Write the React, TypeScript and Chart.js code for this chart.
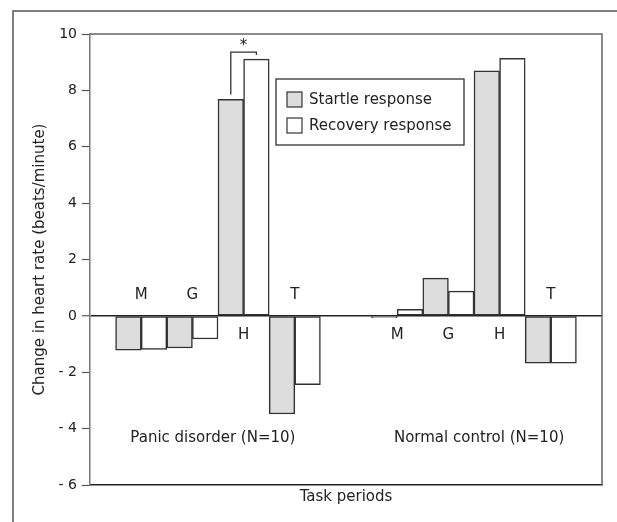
import React, { useEffect, useRef } from 'react';
import { Chart, registerables } from 'chart.js';
Chart.register(...registerables);

const categories = ['', 'M', 'G', 'H', 'T', '', 'M', 'G', 'H', 'T', ''];
const startle = [null, -1.22, -1.14, 7.68, -3.48, null, -0.06, 1.34, 8.69, -1.68, null];
const recovery = [null, -1.19, -0.82, 9.11, -2.44, null, 0.23, 0.88, 9.14, -1.68, null];
const seriesNames = ['Startle response', 'Recovery response'];
const seriesFills = ['#dddddd', '#ffffff'];
const groupNames = ['Panic disorder (N=10)', 'Normal control (N=10)'];
const groupPositions = [2.4, 7.6];
const groupLabelValue = -4.35;
const yTicks = [-6, -4, -2, 0, 2, 4, 6, 8, 10];
const significanceIndex = 3;
const significanceMark = '*';

const FONT = '"DejaVu Sans", sans-serif';
const TEXT = '#222';

const decor = {
  id: 'decor',
  afterDraw(chart: any) {
    const { ctx, chartArea: ca, scales } = chart;
    const x = scales.x;
    const y = scales.y;
    ctx.save();
    // outer frame
    ctx.strokeStyle = '#555';
    ctx.lineWidth = 1.5;
    ctx.beginPath();
    ctx.moveTo(13, chart.height);
    ctx.lineTo(13, 11);
    ctx.lineTo(chart.width, 11);
    ctx.stroke();
    // top & right plot border
    ctx.strokeStyle = '#666';
    ctx.beginPath();
    ctx.moveTo(ca.left, ca.top);
    ctx.lineTo(ca.right, ca.top);
    ctx.lineTo(ca.right, ca.bottom);
    ctx.stroke();

    // category letters
    ctx.font = `15px ${FONT}`;
    ctx.fillStyle = TEXT;
    ctx.textAlign = 'center';
    ctx.textBaseline = 'alphabetic';
    const zero = y.getPixelForValue(0);
    categories.forEach((c, i) => {
      if (!c) return;
      const px = x.getPixelForValue(i);
      const hi = Math.max(startle[i] ?? 0, recovery[i] ?? 0);
      if (hi < 0) ctx.fillText(c, px, zero - 16.5);
      else ctx.fillText(c, px, zero + 23.5);
    });

    // group labels
    ctx.textBaseline = 'middle';
    groupNames.forEach((g, k) => {
      ctx.fillText(g, x.getPixelForValue(groupPositions[k]), y.getPixelForValue(groupLabelValue));
    });

    // legend
    const bx = ca.left + 186;
    const by = ca.top + 45;
    ctx.strokeStyle = '#333';
    ctx.lineWidth = 1.3;
    ctx.strokeRect(bx, by, 188, 66);
    ctx.textAlign = 'left';
    seriesNames.forEach((name, k) => {
      const sy = by + 13 + k * 26;
      ctx.fillStyle = seriesFills[k];
      ctx.fillRect(bx + 11, sy, 15, 15);
      ctx.strokeStyle = '#333';
      ctx.lineWidth = 1.2;
      ctx.strokeRect(bx + 11, sy, 15, 15);
      ctx.fillStyle = TEXT;
      ctx.fillText(name, bx + 33, sy + 8);
    });

    // significance bracket
    const b0 = chart.getDatasetMeta(0).data[significanceIndex];
    const b1 = chart.getDatasetMeta(1).data[significanceIndex];
    const topY = b1.y - 7;
    ctx.strokeStyle = '#333';
    ctx.lineWidth = 1.3;
    ctx.beginPath();
    ctx.moveTo(b0.x, b0.y - 5);
    ctx.lineTo(b0.x, topY);
    ctx.lineTo(b1.x, topY);
    ctx.lineTo(b1.x, topY + 3);
    ctx.stroke();
    ctx.textAlign = 'center';
    ctx.textBaseline = 'alphabetic';
    ctx.fillStyle = TEXT;
    ctx.fillText(significanceMark, (b0.x + b1.x) / 2, topY - 2);
    ctx.restore();
  },
};

export default function App() {
  const ref = useRef<HTMLCanvasElement>(null);
  useEffect(() => {
    const chart = new Chart(ref.current as HTMLCanvasElement, {
      type: 'bar',
      data: {
        labels: categories,
        datasets: [
          {
            label: seriesNames[0],
            data: startle,
            backgroundColor: seriesFills[0],
            borderColor: '#333',
            borderWidth: 1.5,
            borderSkipped: false,
            categoryPercentage: 1,
            barPercentage: 1,
          },
          {
            label: seriesNames[1],
            data: recovery,
            backgroundColor: seriesFills[1],
            borderColor: '#333',
            borderWidth: 1.5,
            borderSkipped: false,
            categoryPercentage: 1,
            barPercentage: 1,
          },
        ],
      },
      options: {
        responsive: false,
        animation: false,
        layout: { padding: { top: 34, right: 15, left: 0, bottom: 0 } },
        plugins: { legend: { display: false }, tooltip: { enabled: false } },
        scales: {
          x: {
            type: 'category',
            offset: false,
            grid: { display: false },
            border: { color: '#222', width: 1.5 },
            ticks: { display: false },
            title: {
              display: true,
              text: 'Task periods',
              color: TEXT,
              font: { family: FONT, size: 15 },
              padding: { top: 0, bottom: 16 },
            },
            afterFit: (s: any) => {
              s.height = 37;
            },
          },
          y: {
            min: -6,
            max: 10,
            afterBuildTicks: (s: any) => {
              s.ticks = yTicks.map((v) => ({ value: v }));
            },
            grid: {
              drawOnChartArea: true,
              drawTicks: true,
              tickLength: 8,
              tickColor: '#555',
              tickWidth: 1.2,
              color: (c: any) => (c.tick && c.tick.value === 0 ? '#222' : 'transparent'),
              lineWidth: (c: any) => (c.tick && c.tick.value === 0 ? 1.5 : 1),
            },
            border: { color: '#777', width: 1.5 },
            ticks: {
              padding: 5,
              color: TEXT,
              font: { family: FONT, size: 14 },
              callback: (v: any) => (v < 0 ? '- ' + Math.abs(v) : String(v)),
            },
            title: {
              display: true,
              text: 'Change in heart rate (beats/minute)',
              color: TEXT,
              font: { family: FONT, size: 15 },
              padding: { top: 31, bottom: 0 },
            },
            afterFit: (s: any) => {
              s.width = 90;
            },
          },
        },
      },
      plugins: [decor],
    });
    return () => chart.destroy();
  }, []);
  return (
    <div style={{ position: 'absolute', left: 0, top: 0, width: 617, height: 522, background: '#fff' }}>
      <canvas ref={ref} width={617} height={522} />
    </div>
  );
}
